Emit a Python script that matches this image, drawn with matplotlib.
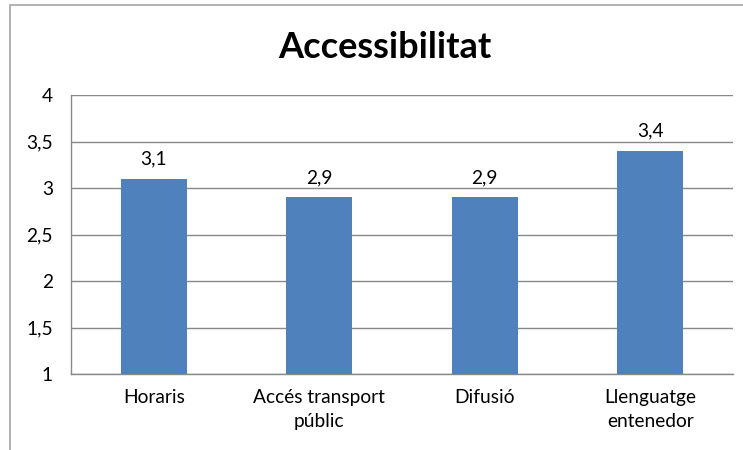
import matplotlib.pyplot as plt
from matplotlib.ticker import FuncFormatter
from matplotlib.patches import Rectangle

categories = ['Horaris', 'Accés transport\npúblic', 'Difusió', 'Llenguatge\nentenedor']
values = [3.1, 2.9, 2.9, 3.4]
yticks = [1, 1.5, 2, 2.5, 3, 3.5, 4]

plt.rcParams['font.family'] = ['Lato', 'DejaVu Sans']

fig = plt.figure(figsize=(7.43, 4.5), dpi=100)
ax = fig.add_axes([71 / 743, 1 - 374 / 450, 662 / 743, 279 / 450])

# chart border (only left and top visible in the crop)
fig.patches.append(Rectangle((10 / 743, -0.1), 1.2, 1 - 5 / 450 + 0.1,
                             transform=fig.transFigure, fill=False,
                             edgecolor='#a6a6a6', linewidth=1.2))

x = range(len(categories))
bars = ax.bar(x, values, width=0.4, bottom=0, color='#4f81bd', zorder=3)

for xi, v in zip(x, values):
    ax.annotate(f'{v:.1f}'.replace('.', ','), (xi, v), xytext=(0, 8),
                textcoords='offset points', ha='center', va='bottom', fontsize=13.8)

ax.set_ylim(1, 4)
ax.set_xlim(-0.5, len(categories) - 0.5)
ax.set_yticks(yticks)
ax.yaxis.set_major_formatter(FuncFormatter(lambda v, p: f'{v:g}'.replace('.', ',')))
ax.set_xticks(list(x))
ax.set_xticklabels(categories, fontsize=13.8, linespacing=1.45)
ax.tick_params(axis='y', length=0, pad=13, labelsize=13.8)
ax.tick_params(axis='x', length=0, pad=11)
ax.grid(axis='y', color='#888888', linewidth=1, zorder=0)

for s in ['top', 'right']:
    ax.spines[s].set_visible(False)
for s in ['left', 'bottom']:
    ax.spines[s].set_color('#888888')
    ax.spines[s].set_linewidth(1)

fig.text(385 / 743, 1 - 48 / 450, 'Accessibilitat', ha='center', va='center',
         fontsize=26, fontweight='bold')

fig.savefig('out.png', dpi=100)
